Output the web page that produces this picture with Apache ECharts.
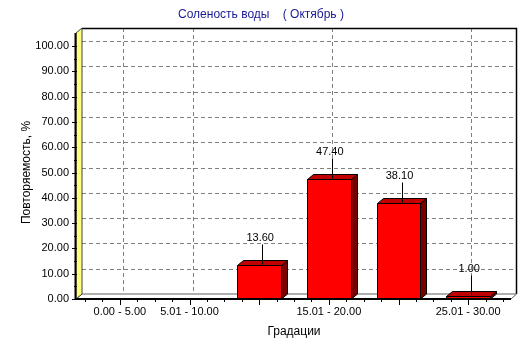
<!DOCTYPE html>
<html><head><meta charset="utf-8">
<script src="https://cdn.jsdelivr.net/npm/echarts@6/dist/echarts.min.js"></script>
<style>html,body{margin:0;padding:0;background:#fff}#c{width:532px;height:343px}</style>
</head><body><div id="c"></div>
<script>
// ---- data ----
const categories = ['0.00 - 5.00', '5.01 - 10.00', '10.01 - 15.00', '15.01 - 20.00', '20.01 - 25.00', '25.01 - 30.00'];
const values = [0, 0, 13.60, 47.40, 38.10, 1.00];
const shownLabelIdx = [0, 1, 3, 5];
const yTicks = [0, 10, 20, 30, 40, 50, 60, 70, 80, 90, 100];
const titleText = 'Соленость воды    ( Октябрь )';
const yName = 'Повторяемость, %';
const xName = 'Градации';

// ---- layout / style ----
const DX = 6, DY = -5;
const FONT = '"Liberation Sans", Arial, sans-serif';
const yMin = yTicks[0], yMax = yTicks[yTicks.length - 1];

const chart = echarts.init(document.getElementById('c'));

function frame(params, api) {
  const cs = params.coordSys;
  const fx0 = cs.x - 9, fx1 = cs.x + cs.width + 8;
  const fy0 = api.coord([0, yMin])[1];
  const fyTop = api.coord([0, yMax])[1] - 13;
  return {cs, fx0, fx1, fy0, fyTop, bx0: fx0 + DX, bx1: fx1 + DX, byTop: fyTop + DY, byBot: fy0 + DY};
}

function renderBack(params, api) {
  const f = frame(params, api);
  const ch = [];
  yTicks.forEach(v => {
    if (v === yMin) return;
    const y = Math.round(api.coord([0, v])[1] + DY) + 0.5;
    ch.push({type: 'line', shape: {x1: f.bx0, y1: y, x2: f.bx1, y2: y},
      style: {stroke: '#808080', lineWidth: 1, lineDash: [4, 3]}});
  });
  shownLabelIdx.forEach(i => {
    const x = Math.round(api.coord([i, 0])[0] + 3) + 0.5;
    ch.push({type: 'line', shape: {x1: x, y1: f.byTop, x2: x, y2: f.byBot},
      style: {stroke: '#808080', lineWidth: 1, lineDash: [4, 3]}});
  });
  ch.push({type: 'polyline', shape: {points: [[f.bx0, f.byTop + 0.5], [f.bx1 - 0.5, f.byTop + 0.5], [f.bx1 - 0.5, f.byBot]]},
    style: {stroke: '#000', lineWidth: 1.5, fill: null}});
  ch.push({type: 'polygon', shape: {points: [[f.fx0, f.fy0], [f.bx0, f.byBot], [f.bx1 - 0.5, f.byBot], [f.fx1, f.fy0]]},
    style: {fill: '#ffffff', stroke: '#606060', lineWidth: 1}});
  ch.push({type: 'polygon', shape: {points: [[f.fx0, f.fyTop], [f.bx0, f.byTop], [f.bx0, f.byBot], [f.fx0, f.fy0]]},
    style: {fill: '#ffff80', stroke: '#404040', lineWidth: 1}});
  return {type: 'group', children: ch};
}

function renderBar(params, api) {
  const i = api.value(0), v = api.value(1);
  if (!(v > 0)) return null;
  const c = api.coord([i, v]);
  const b = api.coord([i, yMin]);
  const w = api.size([1, 0])[0] * 0.63;
  const x0 = Math.round(c[0] - w / 2) + 0.5, x1 = Math.round(c[0] + w / 2) + 0.5;
  const yT = Math.round(c[1]) + 0.5, yB = Math.round(b[1]);
  const st = {stroke: '#000', lineWidth: 1};
  const lx = Math.round(c[0] + 3) + 0.5;
  return {type: 'group', children: [
    {type: 'polygon', shape: {points: [[x1, yT], [x1 + DX, yT + DY], [x1 + DX, yB + DY], [x1, yB]]},
      style: Object.assign({fill: '#7a0000'}, st)},
    {type: 'polygon', shape: {points: [[x0, yT], [x0 + DX, yT + DY], [x1 + DX, yT + DY], [x1, yT]]},
      style: Object.assign({fill: '#c00000'}, st)},
    {type: 'rect', shape: {x: x0, y: yT, width: x1 - x0, height: Math.max(yB - yT, 0)},
      style: Object.assign({fill: '#ff0000'}, st)},
    {type: 'line', shape: {x1: lx, y1: yT - 1, x2: lx, y2: yT - 21}, style: {stroke: '#000', lineWidth: 1}},
    {type: 'text', x: c[0] + 1, y: yT - 28,
      style: {text: v.toFixed(2), fill: '#000', font: '11px ' + FONT, align: 'center', verticalAlign: 'middle'}}
  ]};
}

function renderFront(params, api) {
  const f = frame(params, api);
  const ch = [];
  for (let k = 0; k < yTicks.length; k++) {
    const y = Math.round(api.coord([0, yTicks[k]])[1]) + 0.5;
    ch.push({type: 'line', shape: {x1: f.fx0 - 4, y1: y, x2: f.fx0 + 1, y2: y}, style: {stroke: '#000', lineWidth: 1}});
    if (k < yTicks.length - 1) {
      const ym = Math.round(api.coord([0, (yTicks[k] + yTicks[k + 1]) / 2])[1]) + 0.5;
      ch.push({type: 'line', shape: {x1: f.fx0 - 2, y1: ym, x2: f.fx0 + 1, y2: ym}, style: {stroke: '#000', lineWidth: 1}});
    }
  }
  const band = api.size([1, 0])[0];
  const start = api.coord([0, 0])[0] - band / 2;
  for (let q = 0; q <= categories.length * 4; q++) {
    const x = Math.round(start + q * band / 4) + 0.5;
    const major = q % 4 === 2;
    ch.push({type: 'line', shape: {x1: x, y1: f.fy0, x2: x, y2: f.fy0 + (major ? 6 : 3)}, style: {stroke: '#000', lineWidth: 1}});
  }
  ch.push({type: 'line', shape: {x1: f.fx0 - 0.5, y1: f.fyTop, x2: f.fx0 - 0.5, y2: f.fy0 + 1}, style: {stroke: '#000', lineWidth: 2}});
  ch.push({type: 'line', shape: {x1: f.fx0 - 1, y1: f.fy0, x2: f.fx1, y2: f.fy0}, style: {stroke: '#000', lineWidth: 2}});
  return {type: 'group', children: ch};
}

chart.setOption({
  animation: false,
  backgroundColor: '#fff',
  title: {text: titleText, left: 178, top: 9, padding: 0,
    textStyle: {color: '#1a1a96', fontSize: 12, fontWeight: 'normal', fontFamily: FONT}},
  grid: {left: 85, right: 29, top: 46, bottom: 44},
  xAxis: {type: 'category', data: categories, boundaryGap: true,
    axisLine: {show: false}, axisTick: {show: false}, splitLine: {show: false},
    axisLabel: {interval: (idx) => shownLabelIdx.includes(idx), margin: 7, fontSize: 11, color: '#000', fontFamily: FONT},
    name: xName, nameLocation: 'middle', nameGap: 27, nameMoveOverlap: false,
    nameTextStyle: {fontSize: 12, color: '#000', fontFamily: FONT}},
  yAxis: {type: 'value', min: yMin, max: yMax, interval: 10,
    axisLine: {show: false}, axisTick: {show: false}, splitLine: {show: false},
    axisLabel: {formatter: (v) => v.toFixed(2), margin: 16, fontSize: 11, color: '#000', fontFamily: FONT},
    name: yName, nameLocation: 'middle', nameGap: 52, nameMoveOverlap: false,
    nameTextStyle: {fontSize: 12, color: '#000', fontFamily: FONT}},
  series: [
    {type: 'custom', z: 1, clip: false, silent: true, renderItem: renderBack, data: [[0, 0]]},
    {type: 'custom', z: 2, clip: false, silent: true, renderItem: renderBar, data: values.map((v, i) => [i, v])},
    {type: 'custom', z: 3, clip: false, silent: true, renderItem: renderFront, data: [[0, 0]]}
  ]
});
</script>
</body></html>
